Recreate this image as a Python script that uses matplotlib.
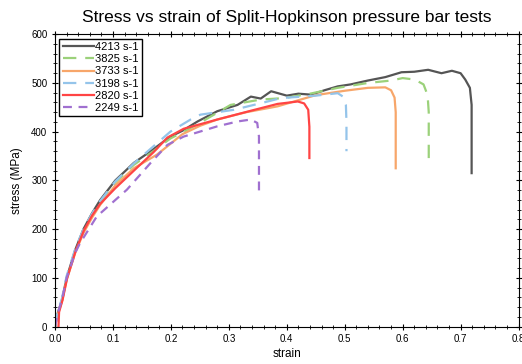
import matplotlib
matplotlib.use("Agg")
import matplotlib.pyplot as plt
from matplotlib.ticker import MultipleLocator

plt.rcParams["font.family"] = ["Liberation Sans", "DejaVu Sans"]

labels = ["4213 s-1", "3825 s-1", "3733 s-1", "3198 s-1", "2820 s-1", "2249 s-1"]

strain_4213 = [0, 0.004, 0.012, 0.020, 0.035, 0.049, 0.064, 0.078, 0.104, 0.136, 0.165, 0.199,
               0.22, 0.246, 0.28, 0.315, 0.338, 0.355, 0.373, 0.40, 0.42,
               0.442, 0.465, 0.488, 0.51, 0.54, 0.57, 0.598, 0.62, 0.644, 0.667, 0.685,
               0.70, 0.708, 0.716, 0.719, 0.719, 0.719]
stress_4213 = [0, 25, 55, 100, 158, 200, 233, 260, 300, 336, 360, 390,
               402, 421, 442, 455, 472, 468, 483, 474, 478,
               476, 485, 493, 497, 505, 512, 522, 523, 527, 520, 525,
               520, 507, 490, 455, 400, 315]

strain_3825 = [0, 0.004, 0.012, 0.020, 0.035, 0.049, 0.064, 0.078, 0.104, 0.136, 0.165, 0.199,
               0.23, 0.26, 0.303, 0.355, 0.396, 0.44, 0.488, 0.54, 0.58, 0.60, 0.621, 0.636,
               0.643, 0.645, 0.645]
stress_3825 = [0, 24, 53, 98, 155, 196, 229, 256, 296, 332, 356, 386,
               405, 425, 455, 466, 469, 478, 490, 500, 505, 510, 507, 497,
               475, 440, 339]

strain_3733 = [0, 0.004, 0.012, 0.020, 0.035, 0.049, 0.064, 0.078, 0.104, 0.136, 0.176, 0.22,
               0.25, 0.28, 0.33, 0.384, 0.45, 0.50, 0.54, 0.57, 0.58, 0.586, 0.588, 0.588]
stress_3733 = [0, 22, 52, 96, 152, 192, 224, 250, 290, 325, 353, 395,
               412, 425, 440, 452, 475, 484, 490, 491, 485, 470, 440, 325]

strain_3198 = [0, 0.004, 0.012, 0.020, 0.035, 0.049, 0.064, 0.078, 0.104, 0.136, 0.165, 0.199,
               0.234, 0.251, 0.309, 0.367, 0.39, 0.45, 0.488, 0.497, 0.502, 0.503, 0.503]
stress_3198 = [0, 28, 58, 104, 160, 200, 232, 258, 298, 335, 365, 400,
               425, 435, 445, 462, 469, 474, 479, 472, 455, 420, 360]

strain_2820 = [0.006, 0.007, 0.013, 0.021, 0.036, 0.050, 0.064, 0.078, 0.104, 0.136, 0.170,
               0.194, 0.222, 0.28, 0.338, 0.384, 0.419, 0.43, 0.437, 0.439, 0.439]
stress_2820 = [0, 30, 55, 100, 157, 198, 228, 252, 284, 320, 358,
               388, 406, 425, 443, 457, 462, 458, 445, 410, 346]

strain_2249 = [0, 0.004, 0.012, 0.020, 0.035, 0.043, 0.072, 0.124, 0.165, 0.194, 0.222, 0.28,
               0.315, 0.338, 0.349, 0.352, 0.352]
stress_2249 = [0, 25, 55, 100, 152, 171, 226, 281, 336, 373, 390, 411,
               421, 425, 418, 390, 270]

fig = plt.figure(figsize=(5.22, 3.64), dpi=100)
ax = fig.add_axes([0.1054, 0.1025, 0.888, 0.8035])

ax.plot(strain_4213, stress_4213, color="#555555", lw=1.6, label=labels[0])
ax.plot(strain_3825, stress_3825, color="#9bd17a", lw=1.6, dashes=(6, 4), label=labels[1])
ax.plot(strain_3733, stress_3733, color="#f7a66a", lw=1.6, label=labels[2])
ax.plot(strain_3198, stress_3198, color="#94c4ea", lw=1.6, dashes=(6, 4), label=labels[3])
ax.plot(strain_2820, stress_2820, color="#ff4444", lw=1.6, label=labels[4])
ax.plot(strain_2249, stress_2249, color="#a070d0", lw=1.6, dashes=(4, 3), label=labels[5])

ax.set_xlim(0, 0.8)
ax.set_ylim(0, 600)
ax.xaxis.set_major_locator(MultipleLocator(0.1))
ax.xaxis.set_minor_locator(MultipleLocator(0.02))
ax.yaxis.set_major_locator(MultipleLocator(100))
ax.yaxis.set_minor_locator(MultipleLocator(20))
ax.tick_params(which="both", direction="inout", top=True, right=True, labelsize=7, pad=3)
ax.tick_params(which="major", length=5, width=0.8)
ax.tick_params(which="minor", length=3, width=0.6)

ax.set_title("Stress vs strain of Split-Hopkinson pressure bar tests", fontsize=12.5, pad=9)
ax.set_xlabel("strain", fontsize=8.5, labelpad=3)
ax.set_ylabel("stress (MPa)", fontsize=8.5, labelpad=6)

leg = ax.legend(loc="upper left", fontsize=8, handlelength=2.8, handletextpad=0.1,
                labelspacing=0.2, borderpad=0.3, borderaxespad=0.4, fancybox=False,
                framealpha=1, edgecolor="black")
leg.get_frame().set_linewidth(1.0)

fig.savefig("out.png", dpi=100)
